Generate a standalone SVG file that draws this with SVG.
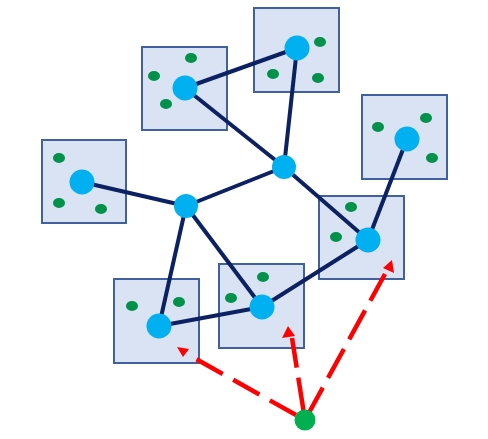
<svg xmlns="http://www.w3.org/2000/svg" width="488" height="439" viewBox="0 0 488 439">
<style>
.box{fill:#DAE3F3;stroke:#41609E;stroke-width:2}
.node{fill:#00B0F0}
.dot{fill:#00914A}
.edge{stroke:#0B2162;stroke-width:4;stroke-linecap:butt;fill:none}
.arrow{stroke:#FF0000;stroke-width:4.5;stroke-dasharray:30 12;fill:none}
.head{fill:#FF0000}
.src{fill:#00B050}
</style>
<rect width="488" height="439" fill="#FFFFFF"/>
<g id="boxA"><rect class="box" x="142" y="47" width="85" height="83"/>
<ellipse class="dot" cx="191" cy="58" rx="6" ry="5"/><ellipse class="dot" cx="154" cy="76" rx="6" ry="5"/><ellipse class="dot" cx="166" cy="104" rx="6" ry="5"/></g>
<g id="boxB"><rect class="box" x="254" y="8" width="85" height="84"/>
<ellipse class="dot" cx="320" cy="42" rx="6" ry="5"/><ellipse class="dot" cx="273" cy="74" rx="6" ry="5"/><ellipse class="dot" cx="318" cy="78" rx="6" ry="5"/></g>
<g id="boxC"><rect class="box" x="42" y="140" width="84" height="83"/>
<ellipse class="dot" cx="59" cy="158" rx="6" ry="5"/><ellipse class="dot" cx="59" cy="203" rx="6" ry="5"/><ellipse class="dot" cx="101" cy="209" rx="6" ry="5"/></g>
<g id="boxD"><rect class="box" x="362" y="95" width="85" height="84"/>
<ellipse class="dot" cx="378" cy="127" rx="6" ry="5"/><ellipse class="dot" cx="426" cy="118" rx="6" ry="5"/><ellipse class="dot" cx="432" cy="158" rx="6" ry="5"/></g>
<g id="boxE"><rect class="box" x="319" y="196" width="85" height="83"/>
<ellipse class="dot" cx="351" cy="207" rx="6" ry="5"/><ellipse class="dot" cx="336" cy="237" rx="6" ry="5"/></g>
<g id="boxF"><rect class="box" x="114" y="279" width="85" height="84"/>
<ellipse class="dot" cx="132" cy="306" rx="6" ry="5"/><ellipse class="dot" cx="179" cy="302" rx="6" ry="5"/></g>
<g id="boxG"><rect class="box" x="219" y="264" width="85" height="84"/>
<ellipse class="dot" cx="263" cy="277" rx="6" ry="5"/><ellipse class="dot" cx="231" cy="298" rx="6" ry="5"/></g>
<g id="connectors">
<line class="edge" x1="185" y1="88" x2="297" y2="48"/>
<line class="edge" x1="185" y1="88" x2="284" y2="167"/>
<line class="edge" x1="297" y1="48" x2="284" y2="167"/>
<line class="edge" x1="82" y1="182" x2="186" y2="206"/>
<line class="edge" x1="186" y1="206" x2="284" y2="167"/>
<line class="edge" x1="284" y1="167" x2="368" y2="240"/>
<line class="edge" x1="407" y1="139" x2="368" y2="240"/>
<line class="edge" x1="186" y1="206" x2="159" y2="326"/>
<line class="edge" x1="186" y1="206" x2="262" y2="307"/>
<line class="edge" x1="159" y1="326" x2="262" y2="307"/>
<line class="edge" x1="262" y1="307" x2="368" y2="240"/>
<line class="arrow" x1="296" y1="415" x2="196" y2="359"/>
<polygon class="head" points="177,347 189,349 183,357"/>
<line class="arrow" x1="305" y1="420" x2="292" y2="338" style="stroke-dasharray:43 10 40"/>
<polygon class="head" points="288,326 282,338 295,336"/>
<line class="arrow" x1="305" y1="420" x2="385" y2="274" style="stroke-dasharray:37 11 33 11 33 11 33 11 40"/>
<polygon class="head" points="392,260 383,268 394,273"/>
</g>
<g id="nodeA"><circle class="node" cx="185" cy="88" r="12.5"/></g>
<g id="nodeB"><circle class="node" cx="297" cy="48" r="12.5"/></g>
<g id="nodeC"><circle class="node" cx="82" cy="182" r="12.5"/></g>
<g id="nodeD"><circle class="node" cx="407" cy="139" r="12.5"/></g>
<g id="nodeE"><circle class="node" cx="368" cy="240" r="12.5"/></g>
<g id="nodeF"><circle class="node" cx="159" cy="326" r="12.5"/></g>
<g id="nodeG"><circle class="node" cx="262" cy="307" r="12.5"/></g>
<g id="hub1"><circle class="node" cx="186" cy="206" r="12"/></g>
<g id="hub2"><circle class="node" cx="284" cy="167" r="12"/></g>
<g id="source"><circle class="src" cx="305" cy="420" r="10.5"/></g>
</svg>
